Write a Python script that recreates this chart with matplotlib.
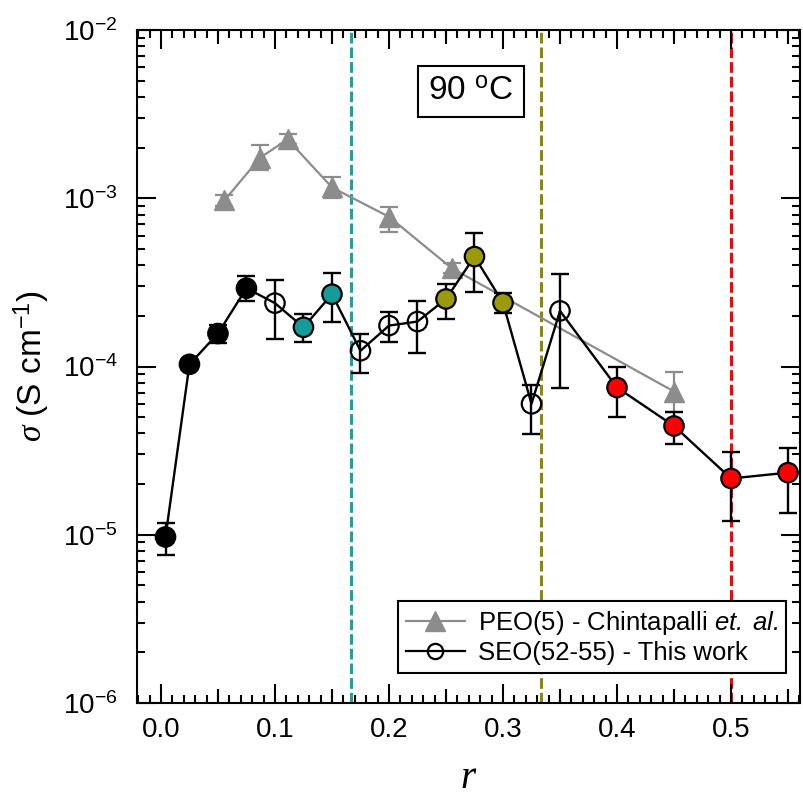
import numpy as np
import matplotlib
matplotlib.use('Agg')
import matplotlib.pyplot as plt
from matplotlib.lines import Line2D
from matplotlib.ticker import MultipleLocator, LogLocator, NullFormatter

plt.rcParams['font.family'] = ['Liberation Sans', 'DejaVu Sans']
plt.rcParams['mathtext.fontset'] = 'custom'
plt.rcParams['mathtext.rm'] = 'Liberation Sans'
plt.rcParams['mathtext.it'] = 'Liberation Serif:italic'
plt.rcParams['mathtext.sf'] = 'Liberation Sans:italic'

# PEO(5) reference data (Chintapalli et al.)
peo_r = [0.0556, 0.087, 0.111, 0.15, 0.2, 0.255, 0.45]
peo_sigma = [9.7e-4, 1.74e-3, 2.24e-3, 1.16e-3, 7.76e-4, 3.84e-4, 7.1e-5]
peo_hi = [1.05e-3, 2.07e-3, 2.4e-3, 1.34e-3, 8.83e-4, 4.1e-4, 9.3e-5]
peo_lo = [9.0e-4, 1.47e-3, 2.1e-3, 1.01e-3, 6.33e-4, 3.6e-4, 5.4e-5]

# SEO(52-55) data
seo_r = [0.004, 0.025, 0.05, 0.075, 0.1, 0.125, 0.15, 0.175, 0.2, 0.225,
         0.25, 0.275, 0.3, 0.325, 0.35, 0.4, 0.45, 0.5, 0.55]
seo_sigma = [9.7e-6, 1.03e-4, 1.57e-4, 2.92e-4, 2.38e-4, 1.71e-4, 2.69e-4, 1.24e-4, 1.75e-4, 1.85e-4,
             2.52e-4, 4.5e-4, 2.39e-4, 6.0e-5, 2.14e-4, 7.5e-5, 4.43e-5, 2.16e-5, 2.34e-5]
seo_hi = [1.18e-5, 1.1e-4, 1.77e-4, 3.45e-4, 3.27e-4, 2.05e-4, 3.58e-4, 1.56e-4, 2.12e-4, 2.46e-4,
          3.09e-4, 6.2e-4, 2.72e-4, 7.76e-5, 3.53e-4, 1.0e-4, 5.39e-5, 3.12e-5, 3.29e-5]
seo_lo = [7.6e-6, 0.96e-4, 1.38e-4, 2.46e-4, 1.45e-4, 1.40e-4, 1.85e-4, 9.1e-5, 1.39e-4, 1.21e-4,
          1.92e-4, 2.79e-4, 2.07e-4, 3.95e-5, 7.5e-5, 5.04e-5, 3.46e-5, 1.2e-5, 1.35e-5]
seo_phase = ['k', 'k', 'k', 'k', 'o', 't', 't', 'o', 'o', 'o',
             'y', 'y', 'y', 'o', 'o', 'r', 'r', 'r', 'r']

# composition boundaries
bound_r = [1 / 6, 1 / 3, 0.5]

gray = '#8c8c8c'
teal = '#159c98'
olive = '#9a9a0a'
phase_colors = {'k': 'black', 'o': 'none', 't': teal, 'y': olive, 'r': '#ff0000'}
bound_colors = ['#1aa3a3', '#8a8a00', '#ff0000']

fig = plt.figure(figsize=(8.04, 7.96), dpi=100)
ax = fig.add_axes([137 / 804, 1 - 703 / 796, 663 / 804, 673 / 796])

for xb, c in zip(bound_r, bound_colors):
    ax.axvline(xb, color=c, lw=2.2, ls=(0, (3.5, 1.3)), zorder=1)

peo_err = [np.array(peo_sigma) - np.array(peo_lo), np.array(peo_hi) - np.array(peo_sigma)]
ax.errorbar(peo_r, peo_sigma, yerr=peo_err, color=gray, lw=1.6, elinewidth=1.6,
            capsize=6.5, capthick=1.6, marker='^', ms=14, mfc=gray, mec=gray, zorder=2)

seo_err = [np.array(seo_sigma) - np.array(seo_lo), np.array(seo_hi) - np.array(seo_sigma)]
ax.errorbar(seo_r, seo_sigma, yerr=seo_err, color='black', lw=1.7, elinewidth=1.7,
            capsize=6.5, capthick=1.7, fmt='-', zorder=3)
ax.scatter(seo_r, seo_sigma, s=14 ** 2, c=[phase_colors[p] for p in seo_phase],
           edgecolors='black', linewidths=1.6, zorder=4)

ax.set_yscale('log')
ax.set_ylim(1e-6, 1e-2)
ax.set_xlim(-0.021, 0.5605)

ax.xaxis.set_major_locator(MultipleLocator(0.1))
ax.xaxis.set_minor_locator(MultipleLocator(0.01))
ax.yaxis.set_minor_locator(LogLocator(base=10, subs=np.arange(2, 10)))
ax.yaxis.set_minor_formatter(NullFormatter())
ax.set_xticks(np.arange(0, 0.51, 0.1))
ax.set_xticklabels(['0.0', '0.1', '0.2', '0.3', '0.4', '0.5'])

ax.tick_params(which='both', direction='in', top=True, right=True, width=1.5, labelsize=20)
ax.tick_params(which='major', length=14)
ax.tick_params(which='minor', length=6)
ax.tick_params(axis='x', pad=10)
ax.tick_params(axis='y', pad=14)
for sp in ax.spines.values():
    sp.set_linewidth(1.5)

# half-decade ticks at 0.05, 0.15, ...
mid_ticks = np.arange(0.05, 0.56, 0.1)
for loc in ('bottom', 'top'):
    sec = ax.secondary_xaxis(loc)
    sec.set_xticks(mid_ticks)
    sec.set_xticklabels([])
    sec.tick_params(axis='x', direction='in', length=10, width=1.5)
    sec.spines[loc].set_visible(False)

ax.set_xlabel('$r$', fontsize=28, labelpad=12)
ax.set_ylabel(r'$\sigma$ (S cm$^{-1}$)', fontsize=24, labelpad=8)

ax.text(0.504, 0.909, '90 $^\\mathregular{o}$C', transform=ax.transAxes, fontsize=24,
        ha='center', va='center',
        bbox=dict(boxstyle='square,pad=0.3', fc='white', ec='black', lw=1.5))

handles = [
    Line2D([], [], color=gray, lw=1.6, marker='^', ms=14, mfc=gray, mec=gray),
    Line2D([], [], color='black', lw=1.6, marker='o', ms=11, mfc='none', mec='black', mew=1.6),
]
labels = [r'PEO(5) - Chintapalli $\mathsf{et.\ al.}$', 'SEO(52-55) - This work']
leg = ax.legend(handles, labels, loc='lower right', bbox_to_anchor=(0.979, 0.045),
                borderaxespad=0, fontsize=18.5, frameon=True, fancybox=False, framealpha=1,
                edgecolor='black', handlelength=2.3, handletextpad=0.5, labelspacing=0.15,
                borderpad=0.3)
leg.get_frame().set_linewidth(1.5)
leg.set_zorder(5)

fig.savefig('out.png', dpi=100)
